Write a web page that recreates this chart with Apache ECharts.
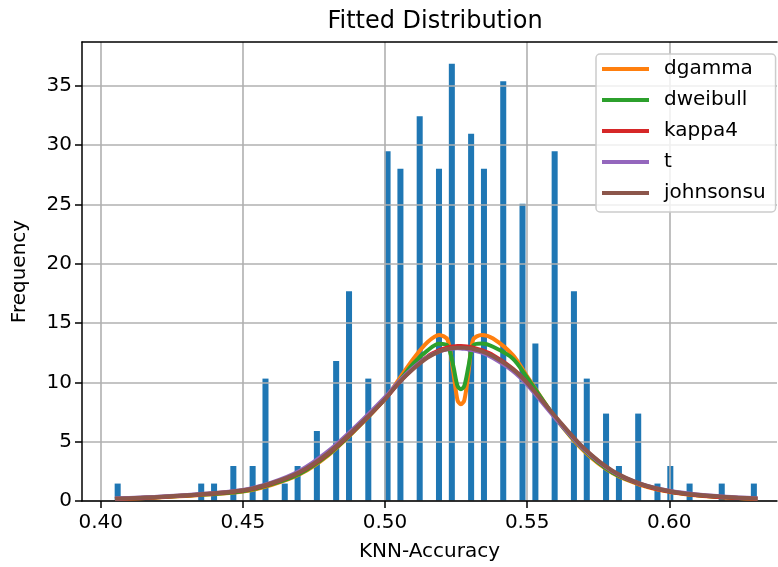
<!DOCTYPE html>
<html>
<head>
    <meta charset="utf-8">
    <title>Fitted Distribution</title>
    <script src="https://cdn.jsdelivr.net/npm/echarts@6/dist/echarts.min.js"></script>
    <style>
        html, body { margin: 0; padding: 0; background: #fff; }
        #chart { width: 778px; height: 567px; }
    </style>
</head>
<body>
<div id="chart"></div>
<script type="text/javascript">
    // histogram bins (centre of bin, density)
    var binCenters = [0.40595, 0.43534, 0.43986, 0.44664, 0.45343, 0.45795, 0.46473, 0.46925, 0.47603,
        0.48281, 0.48734, 0.49412, 0.5009, 0.50542, 0.5122, 0.51899, 0.52351, 0.53029, 0.53481, 0.54159,
        0.54837, 0.5529, 0.55968, 0.56646, 0.57098, 0.57776, 0.58229, 0.58907, 0.59585, 0.60037, 0.60715,
        0.61846, 0.62976];
    var binDensity = [1.47, 1.47, 1.47, 2.95, 2.95, 10.32, 1.47, 2.95, 5.9, 11.8, 17.69, 10.32, 29.49,
        28.02, 32.44, 28.02, 36.86, 30.96, 28.02, 35.39, 25.07, 13.27, 29.49, 17.69, 10.32, 7.37, 2.95,
        7.37, 1.47, 2.95, 1.47, 1.47, 1.47];

    // fitted pdf curves
    var curveX = [0.405, 0.42, 0.435, 0.45, 0.46, 0.47, 0.48, 0.49, 0.50, 0.505, 0.51, 0.515, 0.519, 0.522,
        0.524, 0.5255, 0.5267, 0.5279, 0.5294, 0.531, 0.534, 0.538, 0.545, 0.55, 0.56, 0.57, 0.58, 0.59,
        0.60, 0.61, 0.62, 0.631];
    var dgamma = [0.18, 0.30, 0.50, 0.80, 1.35, 2.25, 3.85, 6.1, 8.6, 10.3, 12.0, 13.4, 14.0, 13.6,
        10.9, 8.5, 8.15, 8.5, 10.9, 13.6, 14.0, 13.7, 12.3, 10.5, 7.0, 4.2, 2.35, 1.35, 0.78, 0.46, 0.29, 0.18];
    var dweibull = [0.19, 0.31, 0.52, 0.83, 1.4, 2.3, 3.9, 6.1, 8.6, 10.1, 11.6, 12.7, 13.25, 13.1,
        11.4, 9.7, 9.42, 9.7, 11.4, 13.1, 13.27, 13.0, 12.0, 10.4, 7.0, 4.3, 2.4, 1.4, 0.8, 0.48, 0.3, 0.19];
    var kappa4 = [0.18, 0.32, 0.54, 0.88, 1.47, 2.42, 4.0, 6.15, 8.6, 10.0, 11.2, 12.2, 12.7, 12.95,
        13.03, 13.06, 13.06, 13.04, 13.0, 12.93, 12.72, 12.3, 11.15, 9.95, 7.05, 4.4, 2.5, 1.4, 0.8, 0.48, 0.3, 0.19];
    var tDist = [0.22, 0.36, 0.59, 0.94, 1.55, 2.55, 4.2, 6.35, 8.75, 10.1, 11.25, 12.15, 12.6, 12.8,
        12.85, 12.87, 12.86, 12.83, 12.78, 12.7, 12.5, 12.05, 10.95, 9.8, 6.95, 4.35, 2.5, 1.45, 0.86, 0.54, 0.36, 0.23];
    var johnsonsu = [0.20, 0.34, 0.56, 0.90, 1.50, 2.45, 4.05, 6.2, 8.6, 10.0, 11.15, 12.1, 12.6, 12.82,
        12.9, 12.93, 12.93, 12.92, 12.88, 12.82, 12.62, 12.2, 11.1, 9.95, 7.1, 4.45, 2.55, 1.45, 0.85, 0.52, 0.34, 0.22];

    var xTicks = [0.40, 0.45, 0.50, 0.55, 0.60];
    var yTicks = [0, 5, 10, 15, 20, 25, 30, 35];

    var font = 'DejaVu Sans';
    var barHalf = 0.00106; // half of a drawn bar, in x units
    var xMin = 0.3934, xMax = 0.6379; // the original frame runs past the right edge of the picture

    function pairs(xs, ys) {
        var out = [];
        for (var i = 0; i < xs.length; i++) {
            out.push([xs[i], ys[i]]);
        }
        return out;
    }

    function lineSeries(name, color, ys) {
        return {
            name: name,
            type: 'line',
            data: pairs(curveX, ys),
            smooth: 0.3,
            showSymbol: false,
            symbol: 'none',
            z: 5,
            lineStyle: {color: color, width: 4},
            itemStyle: {color: color}
        };
    }

    var chart = echarts.init(document.getElementById('chart'), null, {renderer: 'canvas'});
    var option = {
        animation: false,
        backgroundColor: '#fff',
        title: {
            text: 'Fitted Distribution',
            left: 435,
            top: 10,
            padding: 0,
            textAlign: 'center',
            textStyle: {fontFamily: font, fontSize: 24, fontWeight: 'normal', color: '#000'}
        },
        legend: {
            left: 596,
            top: 54,
            orient: 'vertical',
            data: ['dgamma', 'dweibull', 'kappa4', 't', 'johnsonsu'],
            icon: 'rect',
            itemWidth: 47,
            itemHeight: 4,
            itemGap: 11,
            padding: [5, 10, 9, 6],
            backgroundColor: 'rgba(255,255,255,0.8)',
            borderColor: '#cccccc',
            borderWidth: 1.5,
            borderRadius: 4,
            textStyle: {fontFamily: font, fontSize: 20, color: '#000', lineHeight: 20, padding: [0, 0, 0, 10]}
        },
        grid: {
            left: 82, right: 1, top: 42, height: 459.7,
            show: false
        },
        xAxis: [{
            type: 'value',
            min: xMin,
            max: xMax,
            z: 3,
            name: 'KNN-Accuracy',
            nameLocation: 'middle',
            nameGap: 41,
            nameTextStyle: {fontFamily: font, fontSize: 20, color: '#000'},
            axisLine: {lineStyle: {color: '#000', width: 1.5}},
            axisTick: {show: true, length: 7, lineStyle: {color: '#000', width: 1.5}, customValues: xTicks},
            axisLabel: {
                fontFamily: font, fontSize: 20, color: '#000', margin: 12,
                customValues: xTicks,
                formatter: function (v) { return v.toFixed(2); }
            },
            splitLine: {show: true, lineStyle: {color: '#b0b0b0', width: 1.6}}
        }, {
            // top frame line only
            type: 'value',
            position: 'top',
            min: xMin,
            max: xMax,
            z: 3,
            axisLine: {show: true, onZero: false, lineStyle: {color: '#000', width: 1.5}},
            axisTick: {show: false},
            axisLabel: {show: false},
            splitLine: {show: false}
        }],
        yAxis: {
            type: 'value',
            min: 0,
            max: 38.7,
            interval: 5,
            z: 3,
            name: 'Frequency',
            nameLocation: 'middle',
            nameGap: 52,
            nameTextStyle: {fontFamily: font, fontSize: 20, color: '#000'},
            axisLine: {show: true, lineStyle: {color: '#000', width: 1.5}},
            axisTick: {show: true, length: 7, lineStyle: {color: '#000', width: 1.5}, customValues: yTicks},
            axisLabel: {fontFamily: font, fontSize: 20, color: '#000', margin: 10, customValues: yTicks},
            splitLine: {show: true, lineStyle: {color: '#b0b0b0', width: 1.6}}
        },
        series: [
            {
                name: 'hist',
                type: 'custom',
                z: 1,
                data: pairs(binCenters, binDensity),
                renderItem: function (params, api) {
                    var x = api.value(0);
                    var y = api.value(1);
                    var p0 = api.coord([x - barHalf, y]);
                    var p1 = api.coord([x + barHalf, 0]);
                    return {
                        type: 'rect',
                        shape: {x: p0[0], y: p0[1], width: p1[0] - p0[0], height: p1[1] - p0[1]},
                        style: {fill: '#1f77b4'}
                    };
                }
            },
            lineSeries('dgamma', '#ff7f0e', dgamma),
            lineSeries('dweibull', '#2ca02c', dweibull),
            lineSeries('kappa4', '#d62728', kappa4),
            lineSeries('t', '#9467bd', tDist),
            lineSeries('johnsonsu', '#8c564b', johnsonsu)
        ]
    };
    chart.setOption(option);
</script>
</body>
</html>
